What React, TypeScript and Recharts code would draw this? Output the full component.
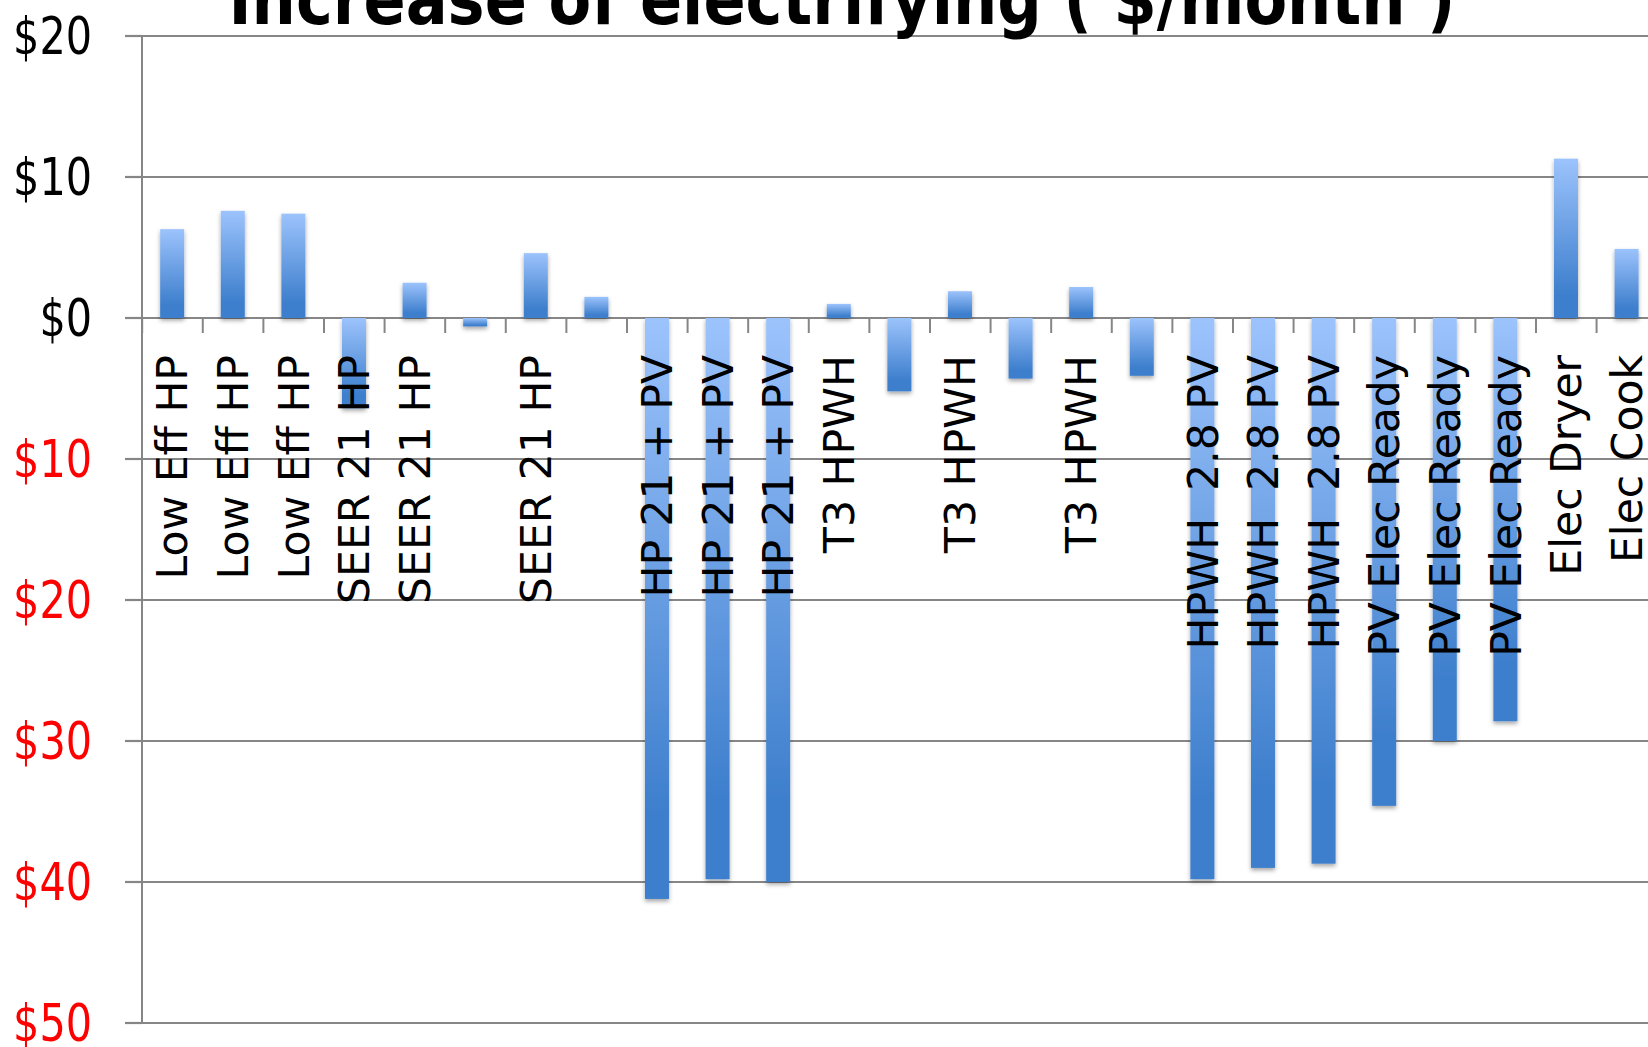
import { BarChart, Bar, XAxis, YAxis, CartesianGrid, LabelList } from "recharts";

// Monthly cost change of each electrification measure, one bar per scenario
const CATEGORY_LABELS = [
  "Low Eff HP",
  "Low Eff HP",
  "Low Eff HP",
  "SEER 21 HP",
  "SEER 21 HP",
  "",
  "SEER 21 HP",
  "",
  "HP 21 + PV",
  "HP 21 + PV",
  "HP 21 + PV",
  "T3 HPWH",
  "",
  "T3 HPWH",
  "",
  "T3 HPWH",
  "",
  "HPWH  2.8 PV",
  "HPWH  2.8 PV",
  "HPWH  2.8 PV",
  "PV Elec Ready",
  "PV Elec Ready",
  "PV Elec Ready",
  "Elec Dryer",
  "Elec Cook",
];

const MONTHLY_CHANGE = [
  6.3, 7.6, 7.4, -6.4, 2.5, -0.6, 4.6, 1.5, -41.2, -39.8, -40.0, 1.0, -5.2, 1.9,
  -4.3, 2.2, -4.1, -39.8, -39.0, -38.7, -34.6, -30.0, -28.6, 11.3, 4.9,
];

const Y_TICKS = [20, 10, 0, -10, -20, -30, -40, -50];

const GRID_COLOR = "#868686";
const BAR_LIGHT = "#9CC3FC";
const BAR_DARK = "#3E7FCD";
const NEGATIVE_COLOR = "#FF0000";
const CATEGORY_GAP = 0.3;

const data = CATEGORY_LABELS.map((label, i) => ({ label, value: MONTHLY_CHANGE[i] }));

function formatDollar(v: number): string {
  return `$${Math.abs(v)}`;
}

// Narrow, tall dollar labels; red for savings (negative values)
function DollarTick({ x, y, payload }: any) {
  const v = Number(payload.value);
  const text = formatDollar(v);
  return (
    <text
      x={x}
      y={y}
      dy="0.36em"
      textAnchor="end"
      fontFamily="'DejaVu Sans Condensed', 'DejaVu Sans', sans-serif"
      fontSize={51}
      textLength={text.length * 26.3}
      lengthAdjust="spacingAndGlyphs"
      fill={v < 0 ? NEGATIVE_COLOR : "#000000"}
    >
      {text}
    </text>
  );
}

function GradientBar({ x, y, width, height }: any) {
  const top = Math.min(y, y + height);
  return (
    <rect
      x={x}
      y={top}
      width={width}
      height={Math.abs(height)}
      fill="url(#barFill)"
      filter="url(#barShadow)"
    />
  );
}

// Category names and tick marks hang off the zero line, not the plot bottom
function CategoryLabel(props: any) {
  const box = props.viewBox ?? props;
  const { x, y, width, height } = box;
  const index = props.index ?? 0;
  const value = MONTHLY_CHANGE[index];
  const top = Math.min(y, y + height);
  const bottom = Math.max(y, y + height);
  const zeroY = value >= 0 ? bottom : top;
  const cx = x + width / 2;
  const band = width / (1 - 2 * CATEGORY_GAP);
  const left = cx - band / 2;
  const text = CATEGORY_LABELS[index];
  return (
    <g>
      <line x1={left} x2={left} y1={zeroY} y2={zeroY + 15} stroke={GRID_COLOR} strokeWidth={2} />
      {text ? (
        <text
          transform={`translate(${cx},${zeroY + 37}) rotate(-90)`}
          textAnchor="end"
          dy="0.36em"
          fontFamily="'DejaVu Sans', sans-serif"
          fontSize={42.5}
          fill="#000000"
          style={{ whiteSpace: "pre" }}
        >
          {text}
        </text>
      ) : null}
    </g>
  );
}

export default function App() {
  return (
    <div
      style={{
        position: "absolute",
        left: 0,
        top: 0,
        width: 1648,
        height: 1047,
        overflow: "hidden",
        background: "#ffffff",
      }}
    >
      <BarChart
        width={1657}
        height={1047}
        data={data}
        margin={{ top: 36, right: 0, bottom: 24, left: 0 }}
        barCategoryGap={`${CATEGORY_GAP * 100}%`}
      >
        <defs>
          <linearGradient id="barFill" x1="0" y1="0" x2="0" y2="1">
            <stop offset="0%" stopColor={BAR_LIGHT} />
            <stop offset="85%" stopColor={BAR_DARK} />
            <stop offset="100%" stopColor={BAR_DARK} />
          </linearGradient>
          <filter
            id="barShadow"
            filterUnits="userSpaceOnUse"
            x="0"
            y="0"
            width="1700"
            height="1100"
          >
            <feDropShadow dx="0" dy="2.5" stdDeviation="2" floodColor="#000000" floodOpacity="0.35" />
          </filter>
        </defs>
        <CartesianGrid vertical={false} stroke={GRID_COLOR} strokeWidth={2.2} />
        <XAxis dataKey="label" hide />
        <YAxis
          type="number"
          domain={[-50, 20]}
          ticks={Y_TICKS}
          interval={0}
          width={142}
          tickSize={17}
          tickMargin={33}
          axisLine={{ stroke: GRID_COLOR, strokeWidth: 2 }}
          tickLine={{ stroke: GRID_COLOR, strokeWidth: 2.2 }}
          tick={<DollarTick />}
        />
        <Bar dataKey="value" shape={<GradientBar />} isAnimationActive={false}>
          <LabelList dataKey="value" content={<CategoryLabel />} />
        </Bar>
      </BarChart>
      <svg
        width={1648}
        height={60}
        style={{ position: "absolute", left: 0, top: 0, pointerEvents: "none" }}
      >
        <text
          x={842}
          y={24}
          textAnchor="middle"
          fontFamily="'DejaVu Sans Condensed', 'DejaVu Sans', sans-serif"
          fontWeight="bold"
          fontSize={72}
          textLength={1227}
          lengthAdjust="spacingAndGlyphs"
          fill="#000000"
        >
          Increase of electrifying ( $/month )
        </text>
      </svg>
    </div>
  );
}
